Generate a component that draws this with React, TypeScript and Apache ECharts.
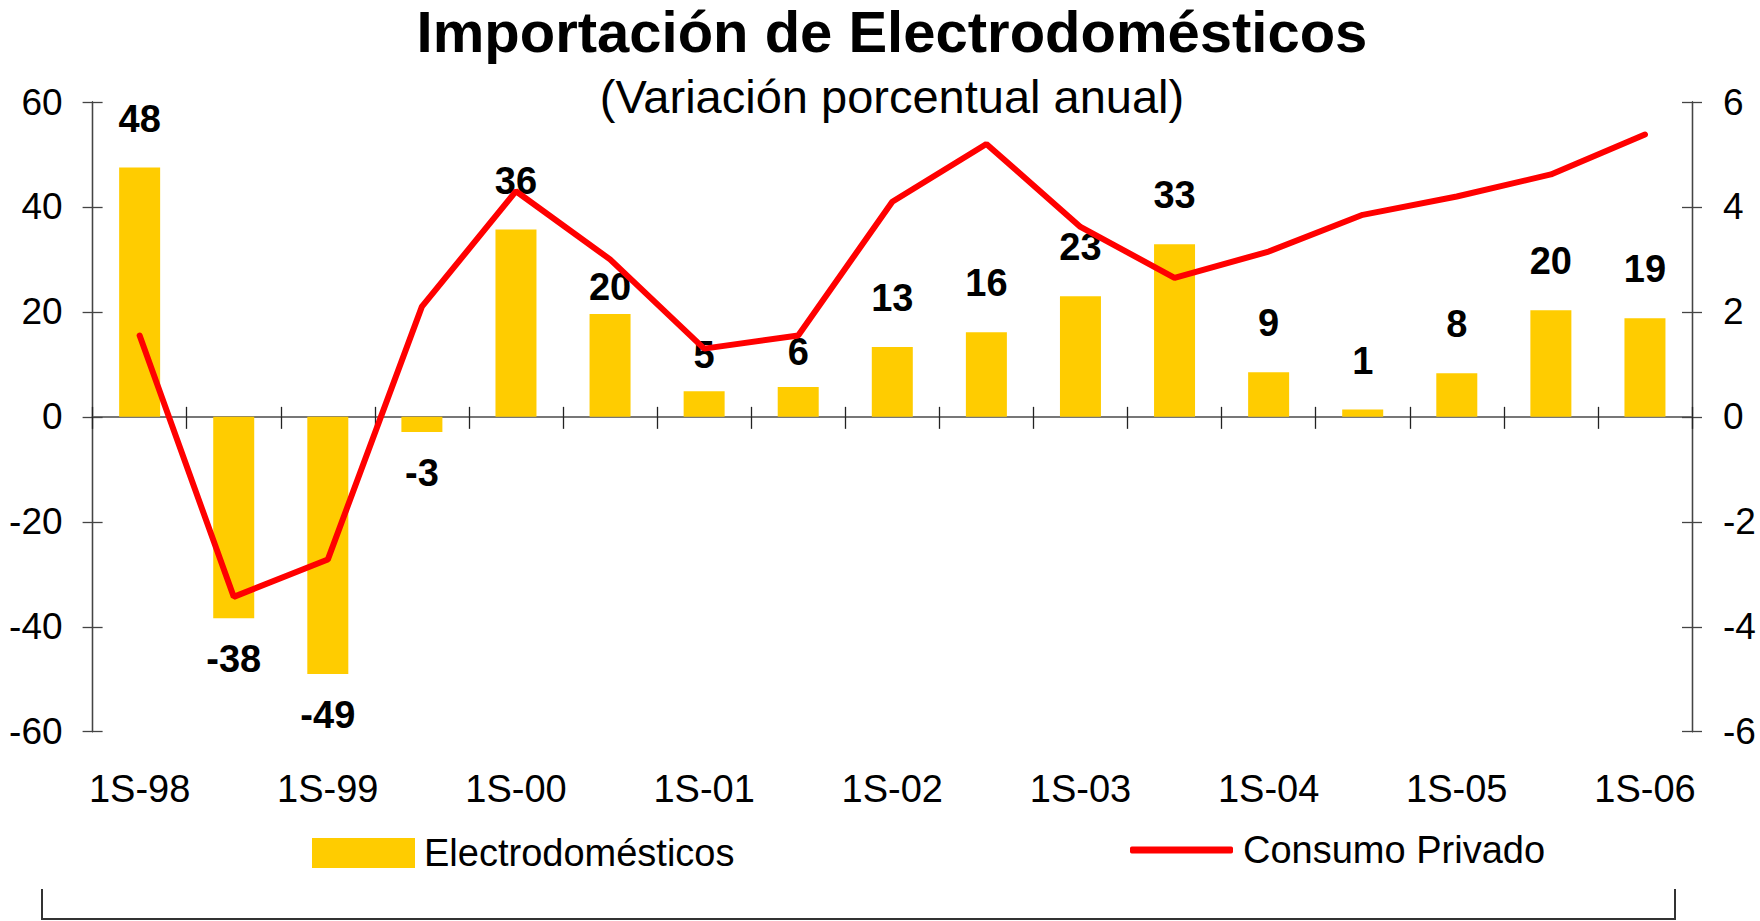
import React, { useEffect, useRef } from "react";
import * as echarts from "echarts";

const categories = [
  "1S-98", "2S-98", "1S-99", "2S-99", "1S-00", "2S-00", "1S-01", "2S-01", "1S-02",
  "2S-02", "1S-03", "2S-03", "1S-04", "2S-04", "1S-05", "2S-05", "1S-06",
];
const electrodomesticos = [
  47.5, -38.4, -49, -2.9, 35.7, 19.6, 4.9, 5.7, 13.3, 16.1, 23, 32.9, 8.5, 1.4, 8.3, 20.3, 18.8,
];
const consumoPrivado = [
  1.55, -3.43, -2.72, 2.1, 4.3, 3.0, 1.3, 1.55, 4.1, 5.2, 3.62, 2.65, 3.15, 3.85, 4.2, 4.62, 5.38,
];
const leftTicks = { min: -60, max: 60, interval: 20 };
const rightTicks = { min: -6, max: 6, interval: 2 };

const FONT = "'Liberation Sans', Arial, Helvetica, sans-serif";
// label distance tweaks (layout only), by category index
const labelDistanceOverride: Record<number, number> = { 5: 8, 6: 17, 7: 16 };

export default function App() {
  const ref = useRef<HTMLDivElement>(null);

  useEffect(() => {
    if (!ref.current) return;
    const chart = echarts.init(ref.current, undefined, { renderer: "svg" });

    const barData = electrodomesticos.map((v, i) => ({
      value: v,
      label: {
        position: v < 0 ? "bottom" : "top",
        distance: labelDistanceOverride[i] ?? (v < 0 ? 22 : 30),
      },
    }));

    const yBase = (t: { min: number; max: number; interval: number }, pos: string) => ({
      type: "value",
      min: t.min,
      max: t.max,
      interval: t.interval,
      position: pos,
      splitLine: { show: false },
      axisLine: { show: true, onZero: false, lineStyle: { color: "#444", width: 1.3 } },
    });

    const option: any = {
      animation: false,
      backgroundColor: "#ffffff",
      grid: { left: 92.6, right: 68, top: 102, bottom: 189.3, containLabel: false },
      xAxis: [
        {
          type: "category",
          data: categories,
          position: "bottom",
          axisLine: { show: false, onZero: false },
          axisTick: { show: false },
          axisLabel: {
            interval: 1,
            margin: 38,
            fontSize: 38,
            color: "#000",
            fontFamily: FONT,
          },
        },
        {
          type: "category",
          data: categories,
          position: "bottom",
          axisLine: { show: true, onZero: true, onZeroAxisIndex: 0, lineStyle: { color: "#777", width: 2 } },
          axisTick: { show: true, interval: 0, length: 12, lineStyle: { color: "#222", width: 1.3 } },
          axisLabel: { show: false },
        },
        {
          type: "category",
          data: categories,
          position: "bottom",
          axisLine: { show: true, onZero: true, onZeroAxisIndex: 0, lineStyle: { color: "#777", width: 2 } },
          axisTick: { show: true, inside: true, interval: 0, length: 10, lineStyle: { color: "#222", width: 1.3 } },
          axisLabel: { show: false },
        },
      ],
      yAxis: [
        {
          ...yBase(leftTicks, "left"),
          axisTick: { show: true, length: 10, lineStyle: { color: "#444", width: 1.3 } },
          axisLabel: { margin: 30, fontSize: 37, color: "#000", fontFamily: FONT },
        },
        {
          ...yBase(rightTicks, "right"),
          axisTick: { show: true, length: 10, lineStyle: { color: "#444", width: 1.3 } },
          axisLabel: { margin: 31, fontSize: 37, color: "#000", fontFamily: FONT },
        },
        {
          ...yBase(leftTicks, "left"),
          axisTick: { show: true, inside: true, length: 10, lineStyle: { color: "#444", width: 1.3 } },
          axisLabel: { show: false },
        },
        {
          ...yBase(rightTicks, "right"),
          axisTick: { show: true, inside: true, length: 10, lineStyle: { color: "#444", width: 1.3 } },
          axisLabel: { show: false },
        },
      ],
      legend: [
        {
          data: [{ name: "Electrodomésticos", icon: "rect" }],
          left: 312,
          top: 834,
          padding: 0,
          itemWidth: 103,
          itemHeight: 30,
          selectedMode: false,
          textStyle: { fontSize: 38, color: "#000", fontFamily: FONT, padding: [0, 0, 0, 4] },
        },
        {
          data: [{ name: "Consumo Privado", icon: "roundRect" }],
          left: 1130,
          top: 831,
          padding: 0,
          itemWidth: 103,
          itemHeight: 7,
          selectedMode: false,
          textStyle: { fontSize: 38, color: "#000", fontFamily: FONT, padding: [0, 0, 0, 5] },
        },
      ],
      graphic: [
        {
          type: "text",
          x: 892,
          y: 31,
          style: {
            text: "Importación de Electrodomésticos",
            fontSize: 58,
            lineHeight: 60,
            fontWeight: "bold",
            fontFamily: FONT,
            fill: "#000",
            textAlign: "center",
            textVerticalAlign: "middle",
          },
        },
        {
          type: "text",
          x: 892,
          y: 96,
          style: {
            text: "(Variación porcentual anual)",
            fontSize: 47,
            lineHeight: 50,
            fontFamily: FONT,
            fill: "#000",
            textAlign: "center",
            textVerticalAlign: "middle",
          },
        },
        {
          type: "polyline",
          shape: { points: [[42, 889], [42, 919], [1675, 919], [1675, 889]] },
          style: { stroke: "#333", lineWidth: 2, fill: "none" },
        },
      ],
      series: [
        {
          name: "Electrodomésticos",
          type: "bar",
          xAxisIndex: 0,
          yAxisIndex: 0,
          data: barData,
          barWidth: 41,
          itemStyle: { color: "#FFCC00" },
          label: {
            show: true,
            fontSize: 38,
            fontWeight: "bold",
            color: "#000",
            fontFamily: FONT,
            formatter: (p: any) => String(Math.round(p.value)),
          },
          z: 2,
        },
        {
          name: "Consumo Privado",
          type: "line",
          xAxisIndex: 0,
          yAxisIndex: 1,
          data: consumoPrivado,
          symbol: "none",
          lineStyle: { color: "#FF0000", width: 6, cap: "round" },
          itemStyle: { color: "#FF0000" },
          z: 3,
        },
      ],
    };

    chart.setOption(option);
    return () => chart.dispose();
  }, []);

  return (
    <div
      ref={ref}
      style={{ position: "absolute", left: 0, top: 0, width: 1760, height: 921 }}
    />
  );
}
